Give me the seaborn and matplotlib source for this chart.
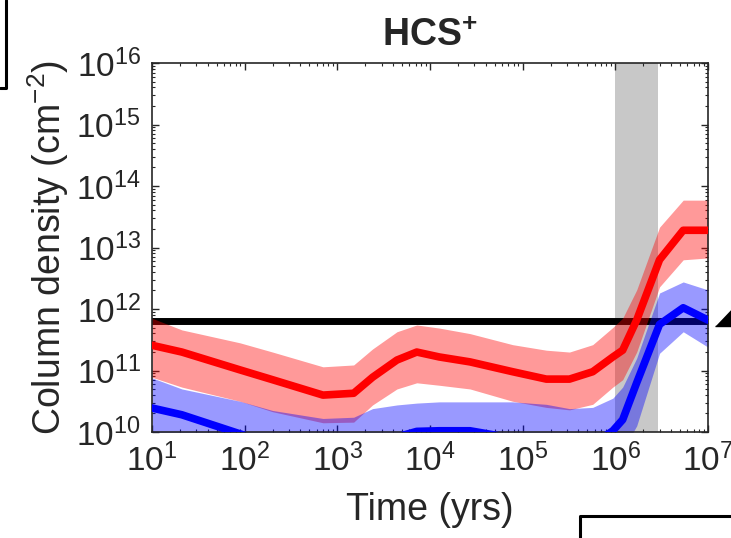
import numpy as np
import pandas as pd
import seaborn as sns
import matplotlib.pyplot as plt
from matplotlib.lines import Line2D
from matplotlib.ticker import LogLocator, NullFormatter
import matplotlib.transforms as mtransforms

# time grid (yrs)
time_yrs = [10, 21, 89, 200, 700, 1500, 2400, 4400, 7200, 1.26e4, 2.7e4, 7.8e4,
            1.8e5, 3.2e5, 5.7e5, 9.4e5, 1.2e6, 1.7e6, 3.0e6, 5.4e6, 1e7]

# log10 column densities
red_log = [11.41, 11.30, 11.01, 10.85, 10.60, 10.63, 10.89, 11.17, 11.30, 11.22, 11.14,
           10.98, 10.86, 10.86, 10.98, 11.22, 11.33, 11.82, 12.80, 13.28, 13.28]
red_hi_log = [11.85, 11.66, 11.45, 11.30, 11.06, 11.09, 11.35, 11.63, 11.74, 11.69, 11.60,
              11.42, 11.33, 11.30, 11.42, 11.70, 11.85, 12.31, 13.33, 13.77, 13.77]
red_lo_log = [10.89, 10.73, 10.50, 10.33, 10.15, 10.16, 10.44, 10.70, 10.80, 10.76, 10.70,
              10.50, 10.40, 10.36, 10.45, 10.73, 10.85, 11.30, 12.36, 12.80, 12.83]

blue_log = [10.39, 10.28, 9.97, 9.80, 9.60, 9.60, 9.75, 9.92, 10.01, 10.02, 10.02,
            9.90, 9.80, 9.75, 9.80, 10.02, 10.20, 10.80, 11.75, 12.02, 11.82]
blue_hi_log = [10.88, 10.70, 10.50, 10.35, 10.22, 10.24, 10.38, 10.44, 10.47, 10.49, 10.49,
               10.49, 10.45, 10.38, 10.40, 10.55, 10.73, 11.20, 12.26, 12.44, 12.31]
blue_lo_log = [9.90, 9.80, 9.50, 9.30, 9.10, 9.10, 9.25, 9.45, 9.50, 9.52, 9.52,
               9.50, 9.40, 9.35, 9.40, 9.50, 9.70, 10.10, 11.28, 11.63, 11.38]

obs_level = 6.3e11            # observed column density (black line + marker)
shade_range = [1.0e6, 2.9e6]  # grey time window

df = pd.DataFrame({
    'time': time_yrs * 2,
    'N': list(10 ** np.array(red_log)) + list(10 ** np.array(blue_log)),
    'model': ['red'] * len(time_yrs) + ['blue'] * len(time_yrs),
})

sns.set_style('ticks')
plt.rcParams['font.family'] = ['Liberation Sans', 'DejaVu Sans']
plt.rcParams['mathtext.fontset'] = 'custom'
plt.rcParams['mathtext.rm'] = 'Liberation Sans'
plt.rcParams['mathtext.it'] = 'Liberation Sans:italic'
plt.rcParams['mathtext.bf'] = 'Liberation Sans:bold'

fig = plt.figure(figsize=(7.31, 5.38), dpi=100)
ax = fig.add_axes([152 / 731, 106 / 538, 556 / 731, 369 / 538])
ax.set_xscale('log')
ax.set_yscale('log')

ax.axvspan(shade_range[0], shade_range[1], color='#c8c8c8', lw=0, zorder=0)
ax.axhline(obs_level, color='black', lw=5, zorder=1)

ax.fill_between(time_yrs, 10 ** np.array(red_lo_log), 10 ** np.array(red_hi_log),
                color='red', alpha=0.4, lw=0, zorder=2)
ax.fill_between(time_yrs, 10 ** np.array(blue_lo_log), 10 ** np.array(blue_hi_log),
                color='blue', alpha=0.4, lw=0, zorder=2)

sns.lineplot(data=df, x='time', y='N', hue='model', palette={'red': 'red', 'blue': 'blue'},
             lw=5.5, legend=False, ax=ax, zorder=3)

ax.set_xlim(10, 1e7)
ax.set_ylim(1e10, 1e16)
for axis in (ax.xaxis, ax.yaxis):
    axis.set_major_locator(LogLocator(base=10, numticks=20))
    axis.set_minor_locator(LogLocator(base=10, subs=np.arange(2, 10), numticks=100))
    axis.set_minor_formatter(NullFormatter())

# observed value marker just outside the right edge
trans = mtransforms.blended_transform_factory(ax.transAxes, ax.transData)
ax.plot([1.0576], [obs_level], transform=trans, clip_on=False, color='black', ls='none',
        marker=[(-1, -0.2), (1, -0.2), (0, 0.85)], markersize=36)

ax.tick_params(which='both', direction='in', top=True, right=True, colors='#262626',
               labelsize=24)
ax.tick_params(which='major', length=5, width=1, pad=8)
ax.tick_params(which='minor', length=2.5, width=0.8)
for sp in ax.spines.values():
    sp.set_color('#262626')
    sp.set_linewidth(1.2)

ax.set_xlabel('Time (yrs)', fontsize=27, color='#262626', labelpad=10)
ax.set_ylabel('Column density (cm$^{-2}$)', fontsize=27, color='#262626', labelpad=4)
ax.set_title('HCS$^{\\mathbf{+}}$', fontsize=27, fontweight='bold', pad=12)

# frame pieces of neighbouring panels
fig.add_artist(Line2D([6 / 731, 6 / 731, 0], [1, 1 - 88 / 538, 1 - 88 / 538],
                      transform=fig.transFigure, color='black', lw=2.2))
fig.add_artist(Line2D([580 / 731, 580 / 731, 1], [0, 22 / 538, 22 / 538],
                      transform=fig.transFigure, color='black', lw=2.2))

fig.savefig('out.png', dpi=100)
